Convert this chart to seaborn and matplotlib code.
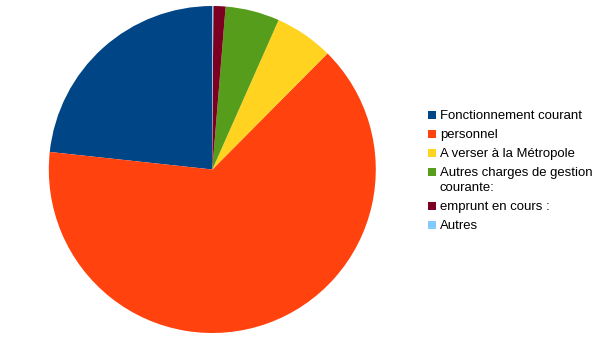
import matplotlib
matplotlib.use("Agg")
import matplotlib.pyplot as plt
import seaborn as sns
from matplotlib.patches import Rectangle

sns.set_theme(style="white")
plt.rcParams['font.family'] = ['Liberation Sans', 'DejaVu Sans']

categories = ["Fonctionnement courant", "personnel", "A verser à la Métropole",
              "Autres charges de gestion\ncourante:", "emprunt en cours :", "Autres"]
values = [23.3, 64.3, 5.8, 5.35, 1.2, 0.1]
colors = ["#004586", "#ff420e", "#ffd320", "#579d1c", "#7e0021", "#83caff"]

W, H = 605, 340
fig = plt.figure(figsize=(W / 100, H / 100), dpi=100)
cx, cy, r = 212.3, 169.5, 163.5
ax = fig.add_axes([(cx - r) / W, (H - cy - r) / H, 2 * r / W, 2 * r / H])
ax.pie(values, colors=colors, startangle=90, counterclock=True,
       wedgeprops=dict(linewidth=0), radius=1.0)
ax.set_xlim(-1, 1)
ax.set_ylim(-1, 1)
ax.set_aspect('equal')
ax.axis('off')

# legend drawn by hand to match the wrapped-entry alignment
y = 115.0
entry_gap = 19.0
line_gap = 15.3
for label, col in zip(categories, colors):
    fig.patches.append(Rectangle(((428) / W, 1 - (y + 4) / H), 8 / W, 8 / H,
                                 transform=fig.transFigure, facecolor=col,
                                 edgecolor='none'))
    lines = label.split("\n")
    for i, ln in enumerate(lines):
        fig.text(440 / W, 1 - (y + 0.8 + i * line_gap) / H, ln, fontsize=9.45,
                 va='center', ha='left', color='#000000')
    y += entry_gap + (len(lines) - 1) * line_gap

fig.savefig("out.png", dpi=100, facecolor="white")
